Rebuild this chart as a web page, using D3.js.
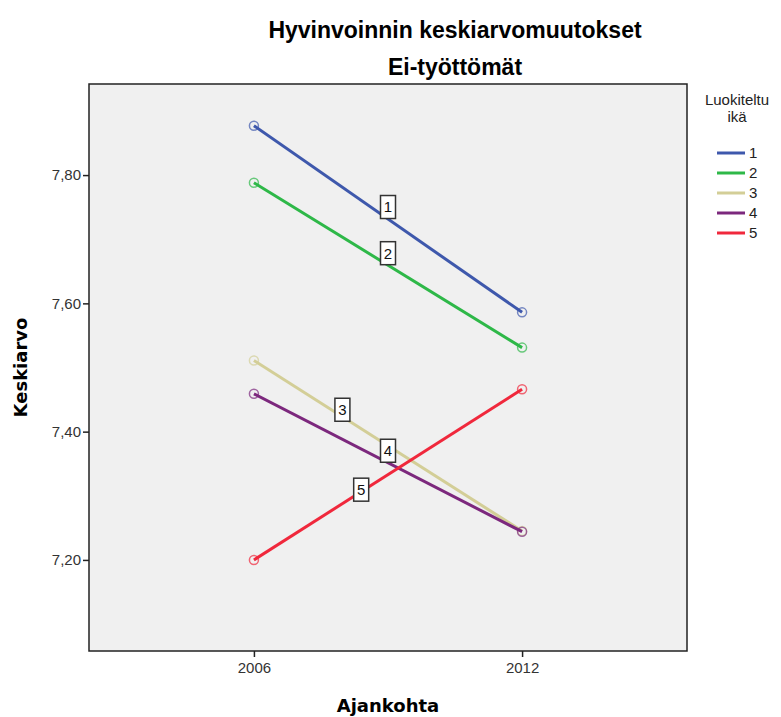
<!DOCTYPE html>
<html>
<head>
<meta charset="utf-8">
<script src="https://cdn.jsdelivr.net/npm/d3@7"></script>
<style>
  body { margin: 0; background: #fff; }
  svg { display: block; }
</style>
</head>
<body>
<svg id="chart"></svg>
<script>
// data
const years = ["2006", "2012"];
const groups = ["1", "2", "3", "4", "5"];
const values = [
    [7.877, 7.586],
    [7.788, 7.531],
    [7.511, 7.245],
    [7.459, 7.244],
    [7.200, 7.466]
];
const yTicks = [7.2, 7.4, 7.6, 7.8];
const colors = ["#3e58ac", "#2eb848", "#d3ce97", "#7c287d", "#f0283c"];
// where along each line the group label sits (fraction) and its vertical shift
const labelAt = [0.5, 0.5, 0.33, 0.5, 0.4];
const labelShift = [-12, -12, -7, -12, -2];

const W = 781, H = 717;
const margin = { top: 84, right: 94, bottom: 66, left: 89 };
const width = W - margin.left - margin.right,
    height = H - margin.top - margin.bottom;

const font = "Liberation Sans, Arial, sans-serif";
const svg = d3.select("#chart").attr("width", W).attr("height", H);

svg.append("text")
    .attr("x", 455).attr("y", 38)
    .attr("text-anchor", "middle")
    .style("font-family", font)
    .style("font-weight", "bold")
    .style("font-size", "23px")
    .text("Hyvinvoinnin keskiarvomuutokset");
svg.append("text")
    .attr("x", 455).attr("y", 75)
    .attr("text-anchor", "middle")
    .style("font-family", font)
    .style("font-weight", "bold")
    .style("font-size", "23px")
    .text("Ei-työttömät");

const g = svg.append("g").attr("transform", `translate(${margin.left},${margin.top})`);

const x = d3.scalePoint().domain(years).range([0, width]).padding(0.615);
const y = d3.scaleLinear().domain([7.058, 7.942]).range([height, 0]);

g.append("rect")
    .attr("width", width).attr("height", height)
    .attr("fill", "#f0f0f0")
    .attr("stroke", "#222").attr("stroke-width", 1.5);

const gy = g.append("g")
    .call(d3.axisLeft(y).tickValues(yTicks).tickSize(6).tickSizeOuter(0)
        .tickFormat(d => d3.format(".2f")(d).replace(".", ",")));
gy.select(".domain").remove();
gy.selectAll("line").attr("stroke", "#222").attr("stroke-width", 1.5);
gy.selectAll("text")
    .attr("x", -8)
    .style("font-family", font)
    .style("font-size", "15px")
    .attr("fill", "#333");

const gx = g.append("g").attr("transform", `translate(0,${height})`)
    .call(d3.axisBottom(x).tickSize(6).tickSizeOuter(0));
gx.select(".domain").remove();
gx.selectAll("line").attr("stroke", "#222").attr("stroke-width", 1.5);
gx.selectAll("text")
    .attr("y", 11)
    .style("font-family", font)
    .style("font-size", "15px")
    .attr("fill", "#333");

svg.append("text")
    .attr("transform", `translate(27,${margin.top + height / 2}) rotate(-90)`)
    .attr("text-anchor", "middle")
    .style("font-family", "DejaVu Sans, Verdana, sans-serif")
    .style("font-weight", "bold")
    .style("font-size", "18px")
    .text("Keskiarvo");
svg.append("text")
    .attr("x", margin.left + width / 2).attr("y", 712)
    .attr("text-anchor", "middle")
    .style("font-family", "DejaVu Sans, Verdana, sans-serif")
    .style("font-weight", "bold")
    .style("font-size", "18px")
    .text("Ajankohta");

const line = d3.line().x((d, i) => x(years[i])).y(d => y(d));

groups.forEach((grp, k) => {
    const vals = values[k];
    g.append("path")
        .datum(vals)
        .attr("d", line)
        .attr("fill", "none")
        .attr("stroke", colors[k])
        .attr("stroke-width", 3);
    g.selectAll(".pt" + k)
        .data(vals)
        .join("circle")
        .attr("class", "pt" + k)
        .attr("cx", (d, i) => x(years[i]))
        .attr("cy", d => y(d))
        .attr("r", 4.5)
        .attr("fill", "none")
        .attr("stroke", colors[k])
        .attr("stroke-opacity", 0.7)
        .attr("stroke-width", 1.5);
});

// group labels on the lines
groups.forEach((grp, k) => {
    const t = labelAt[k];
    const lx = x(years[0]) + t * (x(years[1]) - x(years[0]));
    const ly = y(values[k][0] + t * (values[k][1] - values[k][0])) + labelShift[k];
    const lab = g.append("g").attr("transform", `translate(${lx},${ly})`);
    lab.append("rect")
        .attr("x", -7.5).attr("y", -11.5)
        .attr("width", 15).attr("height", 23)
        .attr("fill", "#fff")
        .attr("stroke", "#333").attr("stroke-width", 1.5);
    lab.append("text")
        .attr("text-anchor", "middle")
        .attr("dy", "0.36em")
        .style("font-family", font)
        .style("font-size", "15px")
        .attr("fill", "#111")
        .text(grp);
});

// legend
const legend = svg.append("g").attr("transform", "translate(737,0)");
legend.append("text")
    .attr("y", 105).attr("text-anchor", "middle")
    .style("font-family", font)
    .style("font-size", "15px").attr("fill", "#222")
    .text("Luokiteltu");
legend.append("text")
    .attr("y", 122).attr("text-anchor", "middle")
    .style("font-family", font)
    .style("font-size", "15px").attr("fill", "#222")
    .text("ikä");

const ly = d3.scalePoint().domain(groups).range([153, 233]);
const items = legend.selectAll(".item").data(groups).join("g")
    .attr("class", "item")
    .attr("transform", d => `translate(0,${ly(d)})`);
items.append("line")
    .attr("x1", -20).attr("x2", 8)
    .attr("stroke", (d, i) => colors[i]).attr("stroke-width", 3);
items.append("text")
    .attr("x", 12).attr("dy", "0.36em")
    .style("font-family", font)
    .style("font-size", "15px").attr("fill", "#222")
    .text(d => d);
</script>
</body>
</html>
